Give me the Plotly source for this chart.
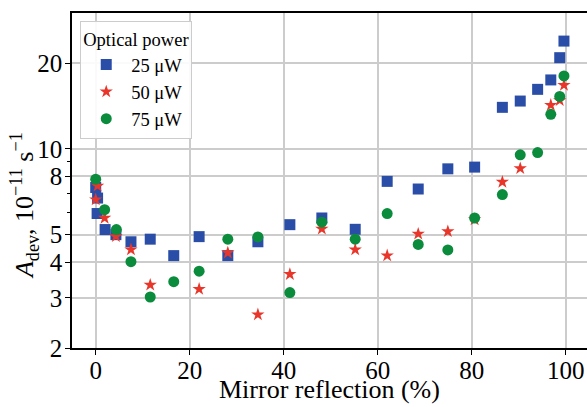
import plotly.graph_objects as go

# Mirror reflection (%) and A_dev (1e-11 s^-1)
x25 = [0.0, 0.4, 0.3, 2.0, 4.3, 7.5, 11.6, 16.6, 22.0, 28.1, 34.5, 41.3, 48.1,
       55.2, 62.0, 68.6, 74.9, 80.6, 86.5, 90.3, 94.0, 96.8, 98.7, 99.6]
y25 = [7.32, 6.72, 5.93, 5.21, 5.0, 4.72, 4.82, 4.22, 4.92, 4.22, 4.72, 5.42, 5.72,
       5.22, 7.69, 7.23, 8.51, 8.63, 13.99, 14.72, 16.18, 17.46, 20.9, 23.9]

x50 = [0.4, 0.0, 1.9, 4.3, 7.5, 11.6, 22.0, 28.1, 34.5, 41.3, 48.1,
       55.2, 62.0, 68.6, 74.9, 80.6, 86.5, 90.3, 96.8, 98.7, 99.6]
y50 = [7.42, 6.64, 5.72, 4.93, 4.43, 3.33, 3.22, 4.32, 2.62, 3.63, 5.24,
       4.43, 4.22, 5.03, 5.13, 5.65, 7.65, 8.54, 14.25, 14.8, 16.74]

x75 = [0.0, 1.9, 4.4, 7.5, 11.6, 16.6, 22.0, 28.1, 34.5, 41.3, 48.1,
       55.2, 62.0, 68.6, 74.9, 80.6, 86.5, 90.3, 94.0, 96.8, 98.7, 99.6]
y75 = [7.83, 6.12, 5.21, 4.02, 3.02, 3.42, 3.72, 4.82, 4.91, 3.13, 5.53,
       4.82, 5.93, 4.62, 4.42, 5.72, 6.91, 9.53, 9.71, 13.22, 15.28, 18.03]

x_ticks = [0, 20, 40, 60, 80, 100]
y_ticks = [2, 3, 4, 5, 8, 10, 20]
y_minor = [6, 7, 9]

x_title = "Mirror reflection (%)"
y_title = "<i>A</i><sub>dev</sub>, 10<sup>−11</sup> s<sup>−1</sup>"

FONT = "Liberation Serif"

fig = go.Figure()
fig.add_trace(go.Scatter(x=x25, y=y25, mode="markers", name="25 μW",
                         marker=dict(symbol="square", size=11, color="#2a4ea8",
                                     line=dict(width=0))))
fig.add_trace(go.Scatter(x=x50, y=y50, mode="markers", name="50 μW",
                         marker=dict(symbol="star", size=10, color="#e8362a",
                                     line=dict(width=0))))
fig.add_trace(go.Scatter(x=x75, y=y75, mode="markers", name="75 μW",
                         marker=dict(symbol="circle", size=11, color="#0a8c3c",
                                     line=dict(width=0))))

fig.update_layout(
    width=587, height=407,
    margin=dict(l=72, r=0, t=13, b=59),
    paper_bgcolor="white", plot_bgcolor="white",
    font=dict(family=FONT, size=20, color="black"),
    showlegend=True,
    legend=dict(
        title=dict(text="Optical power", font=dict(size=18.5, family=FONT)),
        x=0.016, y=0.976, xanchor="left", yanchor="top",
        bgcolor="rgba(255,255,255,0.9)", bordercolor="#cccccc", borderwidth=1,
        font=dict(size=18.5, family=FONT),
        itemwidth=40, tracegroupgap=0,
    ),
    xaxis=dict(
        range=[-5.04, 104.5], tickvals=x_ticks, ticktext=[str(v) for v in x_ticks],
        showgrid=True, gridcolor="#cccccc", gridwidth=1.5,
        showline=True, linecolor="black", linewidth=1.5, mirror=True,
        ticks="outside", ticklen=5, tickwidth=1.2, tickcolor="black",
        zeroline=False, automargin=False, ticklabelstandoff=-6,
        tickfont=dict(size=25, family=FONT),
    ),
    yaxis=dict(
        type="log", range=[0.30103, 1.477],
        tickvals=y_ticks, ticktext=[str(v) for v in y_ticks],
        showgrid=True, gridcolor="#cccccc", gridwidth=1.5,
        showline=True, linecolor="black", linewidth=1.5, mirror=False,
        ticks="outside", ticklen=5, tickwidth=1.2, tickcolor="black",
        zeroline=False, automargin=False, ticklabelstandoff=-2,
        minor=dict(tickmode="array", tickvals=y_minor, ticks="outside", ticklen=3,
                   tickwidth=1, tickcolor="black", showgrid=False),
        tickfont=dict(size=25, family=FONT),
    ),
    annotations=[
        dict(text=x_title, xref="paper", yref="paper", x=0.5, y=-0.173,
             xanchor="center", yanchor="bottom", showarrow=False,
             font=dict(size=26, family=FONT)),
        dict(text=y_title, xref="paper", yref="paper", x=-0.093, y=0.424,
             xanchor="center", yanchor="middle", showarrow=False, textangle=-90,
             font=dict(size=26, family=FONT)),
    ],
)

fig.write_html("out.html")
